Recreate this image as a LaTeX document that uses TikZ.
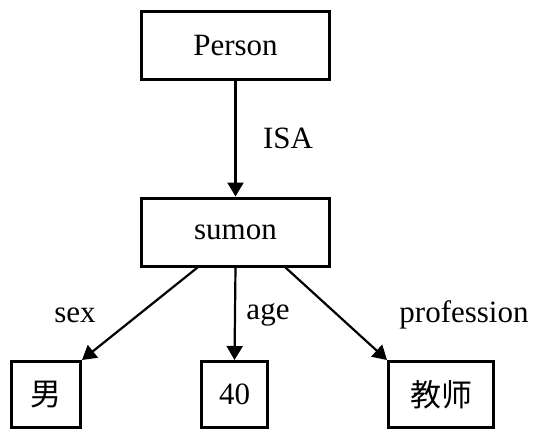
\documentclass[tikz,border=0pt]{standalone}
\usepackage{fontspec}
\setmainfont{Liberation Serif}
\newfontfamily\cjk{Noto Sans CJK SC}
\usepackage{tikz}
\usetikzlibrary{calc,arrows.meta}
\usetikzlibrary{positioning}
\tikzset{box/.style={draw, line width=1.5pt, minimum height=34pt, inner sep=0pt, font=\fontsize{15.5}{18}\selectfont},
rel/.style={line width=1.1pt, -{Triangle[length=7pt, width=8pt]}},
lbl/.style={font=\fontsize{15.5}{18}\selectfont}}

\begin{document}
\begin{tikzpicture}[x=0.5pt, y=-0.5pt]
\useasboundingbox (0,0) rectangle (552,441);
%boxes
\node[box, minimum width=94pt] (person) at (235.5,45.5) {Person};
\node[box, minimum width=94pt] (sumon) at (235.5,232) {sumon};
\node[box, minimum width=34.5pt, minimum height=33pt] (nan) at (46,394.5) {\cjk 男};
\node[box, minimum width=33pt, minimum height=33pt] (age) at (234.5,394.5) {40};
\node[box, minimum width=52.5pt, minimum height=33pt] (job) at (441,394.5) {\cjk 教师};

\draw[rel] (person.south) -- (sumon.north);
\draw[rel] ($(sumon.south)+(-38,0)$) -- (nan.north east);
\draw[rel] (sumon.south) -- (age.north);
\draw[rel] ($(sumon.south)+(50,0)$) -- (job.north west);
%labels
\node[lbl] (isa) at (288,138) {ISA};
\node[lbl] (sexlbl) at (75,315) {sex};
\node[lbl] (agelbl) at (268,315) {age};
\node[lbl] (joblbl) at (464,315) {profession};

\end{tikzpicture}
\end{document}
